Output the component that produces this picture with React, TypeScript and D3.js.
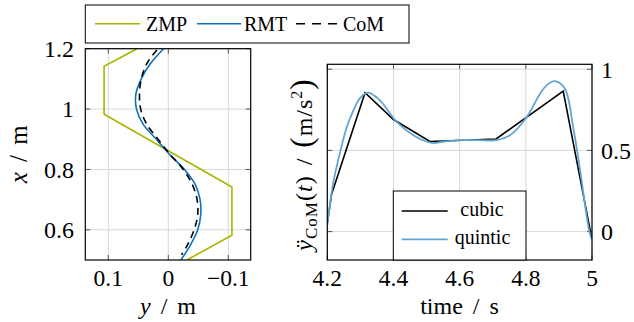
import React from 'react';
import * as d3 from 'd3';

// left panel: lateral position y over forward position x
const zmpX = [1.2, 1.142, 0.983, 0.742, 0.582, 0.5];
const zmpY = [0.052, 0.107, 0.107, -0.106, -0.106, -0.031];

const rmtX = [1.2, 1.15, 1.1, 1.05, 1.0, 0.95, 0.9, 0.85, 0.8, 0.75, 0.7, 0.65, 0.6, 0.55, 0.5];
const rmtY = [0.008, 0.03, 0.045, 0.054, 0.053, 0.042, 0.02, -0.002, -0.027, -0.045, -0.053, -0.054, -0.049, -0.037, -0.021];

const comX = [1.196, 1.15, 1.1, 1.05, 1.0, 0.95, 0.9, 0.85, 0.8, 0.75, 0.7, 0.65, 0.6, 0.55, 0.517];
const comY = [0.019, 0.036, 0.045, 0.048, 0.046, 0.036, 0.017, -0.003, -0.025, -0.04, -0.048, -0.049, -0.043, -0.032, -0.022];

const leftYTicks = [0.1, 0, -0.1];
const leftXTicks = [0.6, 0.8, 1.0, 1.2];

// right panel: CoM acceleration
const tCubic = [4.2, 4.213, 4.314, 4.4, 4.51, 4.71, 4.913, 5.0];
const accCubic = [0.05, 0.23, 0.855, 0.69, 0.555, 0.57, 0.865, -0.05];

const tQuintic = [4.2, 4.218, 4.24, 4.259, 4.279, 4.3, 4.324, 4.359, 4.41, 4.46, 4.515, 4.55, 4.6, 4.66, 4.712, 4.752, 4.803, 4.843, 4.865, 4.888, 4.918, 4.943, 4.964, 4.992, 5.0];
const accQuintic = [0.04, 0.3, 0.5, 0.644, 0.747, 0.825, 0.855, 0.808, 0.675, 0.593, 0.546, 0.553, 0.563, 0.563, 0.563, 0.593, 0.706, 0.849, 0.905, 0.926, 0.88, 0.644, 0.378, 0.0, -0.05];

const timeTicks = [4.2, 4.4, 4.6, 4.8, 5];
const accTicks = [0, 0.5, 1];

const ZMP_COLOR = '#a9b400';
const RMT_COLOR = '#0a72c2';
const QUINTIC_COLOR = '#62a5d2';
const GRID = '#d8d8d8';
const TICK = '#555';
const ts = { fontFamily: 'Liberation Serif' };

const fmt = (v: number) => (v < 0 ? '\u2212' + Math.abs(v) : String(v));

export default function App() {
  // left panel geometry
  const L = { x0: 85.3, x1: 250.7, y0: 48.7, y1: 260 };
  const ly = d3.scaleLinear().domain([0.1383, -0.1373]).range([L.x0, L.x1]); // horizontal: y (reversed)
  const lx = d3.scaleLinear().domain([0.5, 1.2]).range([L.y1, L.y0]); // vertical: x

  const lineL = (xs: number[], ys: number[], curve: d3.CurveFactory) =>
    d3.line<number>()
      .x((_, i) => ly(ys[i]))
      .y((_, i) => lx(xs[i]))
      .curve(curve)(xs) || '';

  // right panel geometry
  const R = { x0: 327.3, x1: 592, y0: 64.3, y1: 260 };
  const rx = d3.scaleLinear().domain([4.2, 5]).range([R.x0, R.x1]);
  const ry = d3.scaleLinear().domain([-0.175, 1.03]).range([R.y1, R.y0]);

  const lineR = (tt: number[], vs: number[], curve: d3.CurveFactory) =>
    d3.line<number>()
      .x((_, i) => rx(tt[i]))
      .y((_, i) => ry(vs[i]))
      .curve(curve)(tt) || '';

  const tk = 5;

  return (
    <svg width={634} height={322} style={{ position: 'absolute', left: 0, top: 0, background: '#fff' }}>
      <defs>
        <clipPath id="clipL"><rect x={L.x0} y={L.y0} width={L.x1 - L.x0} height={L.y1 - L.y0} /></clipPath>
        <clipPath id="clipR"><rect x={R.x0} y={R.y0} width={R.x1 - R.x0} height={R.y1 - R.y0} /></clipPath>
      </defs>

      {/* ---------- left panel ---------- */}
      <g>
        {leftYTicks.map(v => (
          <g key={'lyg' + v}>
            <line x1={ly(v)} x2={ly(v)} y1={L.y0} y2={L.y1} stroke={GRID} strokeWidth={1} />
            <line x1={ly(v)} x2={ly(v)} y1={L.y0} y2={L.y0 + tk} stroke={TICK} />
            <line x1={ly(v)} x2={ly(v)} y1={L.y1} y2={L.y1 - tk} stroke={TICK} />
            <text x={ly(v)} y={286} fontSize={23.5} textAnchor="middle" style={ts}>{fmt(v)}</text>
          </g>
        ))}
        {leftXTicks.map(v => (
          <g key={'lxg' + v}>
            <line x1={L.x0} x2={L.x1} y1={lx(v)} y2={lx(v)} stroke={GRID} strokeWidth={1} />
            <line x1={L.x0} x2={L.x0 + tk} y1={lx(v)} y2={lx(v)} stroke={TICK} />
            <line x1={L.x1} x2={L.x1 - tk} y1={lx(v)} y2={lx(v)} stroke={TICK} />
            <text x={74} y={lx(v)} dy="0.35em" fontSize={24} textAnchor="end" style={ts}>{String(v)}</text>
          </g>
        ))}
        <g clipPath="url(#clipL)" fill="none">
          <path d={lineL(zmpX, zmpY, d3.curveLinear)} stroke={ZMP_COLOR} strokeWidth={1.6} />
          <path d={lineL(rmtX, rmtY, d3.curveCatmullRom)} stroke={RMT_COLOR} strokeWidth={1.6} />
          <path d={lineL(comX, comY, d3.curveCatmullRom)} stroke="#000" strokeWidth={1.6} strokeDasharray="7,5" />
        </g>
        <rect x={L.x0} y={L.y0} width={L.x1 - L.x0} height={L.y1 - L.y0} fill="none" stroke="#000" strokeWidth={1.2} />
        <text x={(L.x0 + L.x1) / 2} y={313.5} fontSize={24} wordSpacing={4} textAnchor="middle" style={ts}>
          <tspan fontStyle="italic">y</tspan> / m
        </text>
        <text transform={`translate(27, ${(L.y0 + L.y1) / 2}) rotate(-90)`} fontSize={25} wordSpacing={4} textAnchor="middle" style={ts}>
          <tspan fontStyle="italic">x</tspan> / m
        </text>
      </g>

      {/* ---------- right panel ---------- */}
      <g>
        {timeTicks.map(v => (
          <g key={'rt' + v}>
            <line x1={rx(v)} x2={rx(v)} y1={R.y0} y2={R.y1} stroke={GRID} strokeWidth={1} />
            <line x1={rx(v)} x2={rx(v)} y1={R.y0} y2={R.y0 + tk} stroke={TICK} />
            <line x1={rx(v)} x2={rx(v)} y1={R.y1} y2={R.y1 - tk} stroke={TICK} />
            <text x={rx(v)} y={286} fontSize={23.5} textAnchor="middle" style={ts}>{String(v)}</text>
          </g>
        ))}
        {accTicks.map(v => (
          <g key={'ra' + v}>
            <line x1={R.x0} x2={R.x1} y1={ry(v)} y2={ry(v)} stroke={GRID} strokeWidth={1} />
            <line x1={R.x0} x2={R.x0 + tk} y1={ry(v)} y2={ry(v)} stroke={TICK} />
            <line x1={R.x1} x2={R.x1 - tk} y1={ry(v)} y2={ry(v)} stroke={TICK} />
            <text x={601} y={ry(v)} dy="0.35em" fontSize={24} textAnchor="start" style={ts}>{String(v)}</text>
          </g>
        ))}
        <g clipPath="url(#clipR)" fill="none">
          <path d={lineR(tCubic, accCubic, d3.curveLinear)} stroke="#000" strokeWidth={1.6} />
          <path d={lineR(tQuintic, accQuintic, d3.curveCatmullRom)} stroke={QUINTIC_COLOR} strokeWidth={1.8} />
        </g>
        <rect x={R.x0} y={R.y0} width={R.x1 - R.x0} height={R.y1 - R.y0} fill="none" stroke="#000" strokeWidth={1.2} />

        {/* inner legend */}
        <rect x={393.3} y={191} width={132.7} height={69} fill="#fff" stroke="#000" strokeWidth={1} />
        <line x1={401.7} x2={447.7} y1={211} y2={211} stroke="#000" strokeWidth={1.6} />
        <text x={482} y={216} fontSize={20} textAnchor="middle" style={ts}>cubic</text>
        <line x1={401.7} x2={447.7} y1={239.3} y2={239.3} stroke={QUINTIC_COLOR} strokeWidth={1.8} />
        <text x={482.5} y={244} fontSize={20} textAnchor="middle" style={ts}>quintic</text>

        <text x={459.5} y={313.5} fontSize={24} wordSpacing={4} textAnchor="middle" style={ts}>time / s</text>
        <text transform={`translate(312, 164.5) rotate(-90)`} fontSize={24} letterSpacing={1} wordSpacing={3} textAnchor="middle" style={ts}>
          <tspan fontStyle="italic">ÿ</tspan>
          <tspan fontSize={17} dy={5}>CoM</tspan>
          <tspan dy={-5}>(</tspan>
          <tspan fontStyle="italic">t</tspan>
          <tspan>) / </tspan>
          <tspan fontSize={31} fontWeight={300}>(</tspan>
          <tspan>m/s</tspan>
          <tspan fontSize={16} dy={-10}>2</tspan>
          <tspan fontSize={31} fontWeight={300} dy={10}>)</tspan>
        </text>
      </g>

      {/* ---------- top legend ---------- */}
      <g>
        <rect x={85.3} y={5} width={323.7} height={38} fill="#fff" stroke="#000" strokeWidth={1} />
        <line x1={95} x2={140} y1={23.7} y2={23.7} stroke={ZMP_COLOR} strokeWidth={1.6} />
        <text x={146} y={30.5} fontSize={20} style={ts}>ZMP</text>
        <line x1={197} x2={241} y1={23.7} y2={23.7} stroke={RMT_COLOR} strokeWidth={1.6} />
        <text x={244} y={30.5} fontSize={20} style={ts}>RMT</text>
        <line x1={296} x2={340} y1={23.7} y2={23.7} stroke="#000" strokeWidth={1.6} strokeDasharray="9,7" />
        <text x={343} y={30.5} fontSize={20} style={ts}>CoM</text>
      </g>
    </svg>
  );
}
